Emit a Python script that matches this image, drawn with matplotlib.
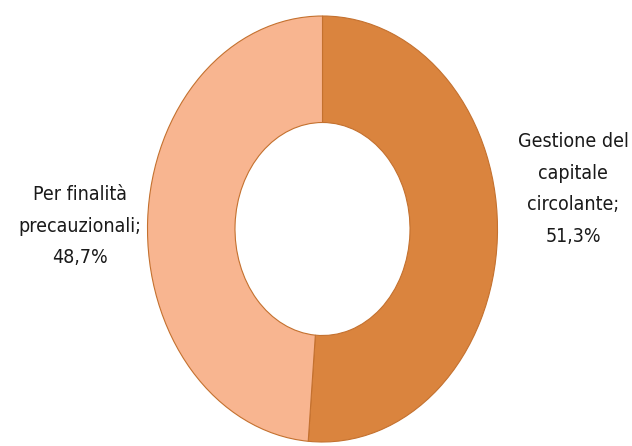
import matplotlib.pyplot as plt
from matplotlib import font_manager

labels = ["Gestione del\ncapitale\ncircolante;\n51,3%", "Per finalità\nprecauzionali;\n48,7%"]
values = [51.3, 48.7]
colors = ["#DA843E", "#F8B590"]

# prefer the upright condensed DejaVu face for the labels
files = [f for f in font_manager.fontManager.ttflist
         if f.name == "DejaVu Sans" and "ondensed" in f.fname
         and f.style == "normal" and f.weight in (400, "normal", "book")]
label_font = font_manager.FontProperties(fname=files[0].fname) if files else font_manager.FontProperties(family="DejaVu Sans", stretch="condensed")

W, H = 632, 446
cx, cy = 322.5, 229      # centre of the ring in pixels (from top)
rx, ry = 175, 213        # outer half-width / half-height

fig = plt.figure(figsize=(W / 100, H / 100), dpi=100)
ax = fig.add_axes([0, 0, 1, 1])

ax.pie(values, colors=colors, startangle=90, counterclock=False, radius=1,
       wedgeprops=dict(width=0.5, edgecolor="#C4712F", linewidth=0.8))

# stretch the ring into an ellipse
ax.set_aspect("auto")
ax.set_xlim(-cx / rx, (W - cx) / rx)
ax.set_ylim(-(H - cy) / ry, cy / ry)
ax.axis("off")

def px(x, y):
    return ((x - cx) / rx, (cy - y) / ry)

ax.text(*px(573, 189), labels[0], ha="center", va="center", fontproperties=label_font,
        fontsize=14, linespacing=1.85, color="#1a1a1a")
ax.text(*px(80, 226), labels[1], ha="center", va="center", fontproperties=label_font,
        fontsize=14, linespacing=1.85, color="#1a1a1a")

fig.savefig("out.png", dpi=100)
